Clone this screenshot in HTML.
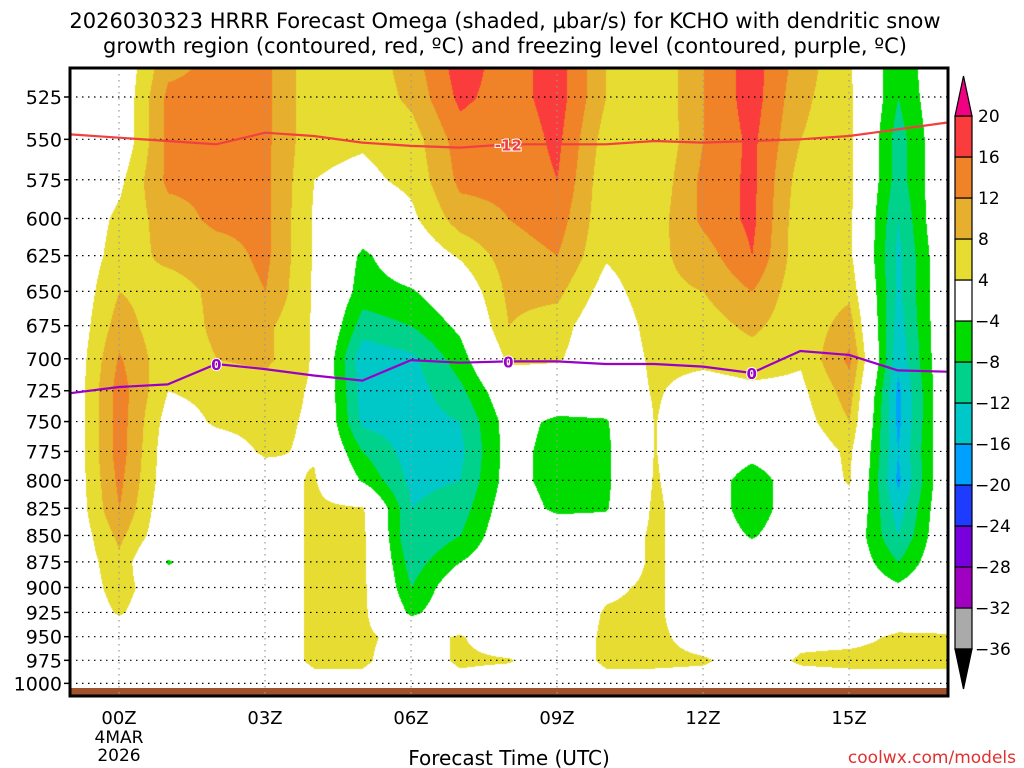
<!DOCTYPE html>
<html><head><meta charset="utf-8">
<style>
body{margin:0;background:#fff;width:1024px;height:768px;overflow:hidden;font-family:"DejaVu Sans","Liberation Sans",sans-serif;}
#wrap{position:relative;width:1024px;height:768px;}
canvas{position:absolute;left:0;top:0;}
svg{position:absolute;left:0;top:0;}
</style></head><body>
<div id="wrap">
<canvas id="cv" width="1024" height="768"></canvas>
<svg id="sv" width="1024" height="768"></svg>
</div>
<script>
// ---- data ----
const hours = [-1,0,1,2,3,4,5,6,7,8,9,10,11,12,13,14,15,16,17];
const pressures = [508,525,550,575,600,625,650,675,700,725,750,775,800,825,850,875,900,925,950,975,1000];
const yTicks = [525,550,575,600,625,650,675,700,725,750,775,800,825,850,875,900,925,950,975,1000];
const xTickHours = [0,3,6,9,12,15];
const xTickLabels = ["00Z","03Z","06Z","09Z","12Z","15Z"];
const omega = [
[0,0,0,0,0,0,0,0,0,0,0,0,0,0,0,0,0,0,0,0,0],
[0,0,0,3,5,6,8,10,12.5,14,14,14,13,12,9,7,6,4.5,0,0,0],
[11,13,13,13,10,9,6,5,5,4,2,1,1,0,0,-4.5,0,0,0,0,0],
[13,13,13,13,13,10,9,9,8,5,4.5,2,0,0,0,0,0,0,0,0,0],
[13,13,13,13,13,13,12,9,9,6,5,4.5,2,0,0,0,0,0,0,0,0],
[5,5,5,4,3.5,3.5,3.5,3.5,3.5,3.5,3.5,3.5,4.5,5,5,5,5,5,5,5,2],
[5,5,4.5,3,0,-5,-6,-10,-15,-14,-13,-8,-4.5,4.5,5,5,5,5,5,5,2],
[10,9,6,5,3,0,-4.5,-8,-13,-14,-14,-14,-13,-12,-12,-10,-8,-5,2,0,0],
[18,17,14,13,10,4.5,0,-3,-6,-9,-12,-13,-12,-10,-8,-4,0,0,4.5,5,2],
[14,14,13,13,12,10,9,8,5,0,-2,-2,-2,-1,0,0,0,0,0,4.5,0],
[18,18,17,16,14,12,9,6,4.5,0,-5,-6,-6,-5,0,0,0,0,0,0,0],
[8,8,6,5,5,4.5,2,0,0,0,-4.5,-5,-5,-4.5,0,0,3,4.5,5,5,2],
[4.5,4.5,4,5,6,7,7,6,5,4.5,4.2,4.2,4.5,5,5,5,5,5,5,5,2],
[12,12,12,13,13,10,8,6,5,2,0,0,0,0,0,0,0,0,2,4.5,2],
[18,18,17,17,17,16,12,9,6,3,0,-2,-7,-7,-4.5,0,0,0,0,2,2],
[10,9,8,6,5,5,5,5,4.5,3,2,0,0,0,0,0,0,0,3,4.5,2],
[4.5,5,5,5,5,5,7,10,13,10,8,5,4.5,2,0,0,0,0,3,5,2],
[-8,-8,-10,-10,-12,-13,-13,-14,-15,-17,-17,-16,-17,-14,-12,-8,-3,2,4.5,5,2],
[2,1,1,1,2,1,1,1,1,1,1,1,1,1,1,1,1,1,4.5,5,2]
];
const dgzP = [547,549,551,553,546,548,552,554,555,553,553,553,551,552,551,550,548,544,540];
const frzP = [727,722,720,704,708,713,717,701,703,702,702,704,704,706,711,694,697,709,710];
const levels = [-36,-32,-28,-24,-20,-16,-12,-8,-4,4,8,12,16,20];
const levelLabels = ["-36","-32","-28","-24","-20","-16","-12","-8","-4","4","8","12","16","20"];
const binColors = ["#000000","#aaaaaa","#a000c0","#7800dc","#1e3cff","#00a0ff","#00c8c8","#00d28c","#00dc00","#ffffff","#e6dc32","#e6af2d","#f08228","#fa3c3c","#f00082"];

// ---- axes ----
const L=70,R=948,T=68,B=696;
const xOf=h=>119+48.67*h;
const yOf=p=>97+910*Math.log(p/525);
function colorFor(v){let i=0;while(i<levels.length&&v>=levels[i])i++;return binColors[i];}
function hexRgb(c){return [parseInt(c.substr(1,2),16),parseInt(c.substr(3,2),16),parseInt(c.substr(5,2),16)];}

// ---- shading ----
const cv=document.getElementById('cv');const ctx=cv.getContext('2d');
const img=ctx.createImageData(R-L,B-T);
const rowY=pressures.map(yOf);
for(let py=T;py<B;py++){
  let r=0;while(r<rowY.length-2&&py>rowY[r+1])r++;
  let fy=(py-rowY[r])/(rowY[r+1]-rowY[r]);fy=Math.max(0,Math.min(1,fy));
  for(let px=L;px<R;px++){
    let h=(px-119)/48.67;h=Math.max(-1,Math.min(17,h));
    let c=Math.min(hours.length-2,Math.floor(h-hours[0]));let fx=h-hours[c];
    const v=(omega[c][r]*(1-fx)+omega[c+1][r]*fx)*(1-fy)+(omega[c][r+1]*(1-fx)+omega[c+1][r+1]*fx)*fy;
    const rgb=hexRgb(colorFor(v));const k=((py-T)*(R-L)+(px-L))*4;
    img.data[k]=rgb[0];img.data[k+1]=rgb[1];img.data[k+2]=rgb[2];img.data[k+3]=255;
  }
}
ctx.putImageData(img,L,T);

// ---- svg overlay ----
const sv=document.getElementById('sv');const NS='http://www.w3.org/2000/svg';
function mk(tag,attrs,parent){const e=document.createElementNS(NS,tag);for(const k in attrs)e.setAttribute(k,attrs[k]);(parent||sv).appendChild(e);return e;}
function txt(s,x,y,attrs){const e=mk('text',Object.assign({x:x,y:y},attrs));e.textContent=s;return e;}

const ter=mk('rect',{x:L,y:688,width:R-L,height:B-688,fill:'#a0522d'});



yTicks.forEach(p=>{
  const y=yOf(p);
  const g=mk('line',{x1:L,x2:R,y1:y,y2:y,stroke:'#000','stroke-width':1.2,'stroke-dasharray':'1.5,4.5'});
  
  
  mk('line',{x1:L-6,x2:L,y1:y,y2:y,stroke:'#000','stroke-width':1.5});
  const t=txt(String(p),62,y+7,{'text-anchor':'end','font-size':19,fill:'#000'});
  
  
});
xTickHours.forEach((h,i)=>{
  const x=xOf(h);
  const g=mk('line',{x1:x,x2:x,y1:T,y2:B,stroke:'#999','stroke-width':1.2,'stroke-dasharray':'1.5,4.5'});
  
  
  const t=txt(xTickLabels[i],x,724,{'text-anchor':'middle','font-size':18,fill:'#000'});
  
  
});
const d1=txt('4MAR',xOf(0),743,{'text-anchor':'middle','font-size':17});


const d2=txt('2026',xOf(0),761,{'text-anchor':'middle','font-size':17});



function line(arr,color,name){
  const pts=arr.map((p,i)=>xOf(hours[i]).toFixed(1)+','+yOf(p).toFixed(1)).join(' ');
  const e=mk('polyline',{points:pts,fill:'none',stroke:color,'stroke-width':2.2});
  
  
}
line(dgzP,'#f04040','dgz-contour');
line(frzP,'#9a00c8','freezing-level-contour');
function clabel(s,h,arr,color,name){
  const x=xOf(h);const y=yOf(arr[hours.indexOf(h)]);
  const t=txt(s,x,y+6,{'text-anchor':'middle','font-size':15,'font-weight':'bold',fill:color,stroke:'#fff','stroke-width':2,'paint-order':'stroke'});
  
  
}
clabel('0',2,frzP,'#9a00c8','freezing-label');
clabel('0',8,frzP,'#9a00c8','freezing-label');
clabel('0',13,frzP,'#9a00c8','freezing-label');
clabel('-12',8,dgzP,'#f04040','dgz-label');

const fr=mk('rect',{x:L,y:T,width:R-L,height:B-T,fill:'none',stroke:'#000','stroke-width':3});



const cbX=955,cbW=17,cbTop=116,step=41;
const nb=levels.length-1;
for(let i=0;i<nb;i++){
  const y=cbTop+(nb-1-i)*step;
  const r=mk('rect',{x:cbX,y:y,width:cbW,height:step,fill:binColors[i+1],stroke:'#000','stroke-width':1.2});
  
  
}
const tUp=mk('polygon',{points:`${cbX},${cbTop} ${cbX+cbW},${cbTop} ${cbX+cbW/2},${cbTop-40}`,fill:binColors[binColors.length-1],stroke:'#000','stroke-width':1.2});


const bot=cbTop+nb*step;
const tDn=mk('polygon',{points:`${cbX},${bot} ${cbX+cbW},${bot} ${cbX+cbW/2},${bot+40}`,fill:binColors[0],stroke:'#000','stroke-width':1.2});


levels.forEach((lv,i)=>{
  const y=cbTop+(nb-i)*step;
  const s=levelLabels[i].replace('-','\u2212');
  const t=txt(s,lv<0?975:978,y+6,{'font-size':17,fill:'#000'});
  
  
});

const t1=txt('2026030323 HRRR Forecast Omega (shaded, \u03bcbar/s) for KCHO with dendritic snow',505,28,{'text-anchor':'middle','font-size':21});


const t2=txt('growth region (contoured, red, \u00baC) and freezing level (contoured, purple, \u00baC)',505,53,{'text-anchor':'middle','font-size':21});


const xt=txt('Forecast Time (UTC)',509,765,{'text-anchor':'middle','font-size':20});


const cr=txt('coolwx.com/models',1016,763,{'text-anchor':'end','font-size':17,fill:'#e03030'});


</script>
</body></html>
